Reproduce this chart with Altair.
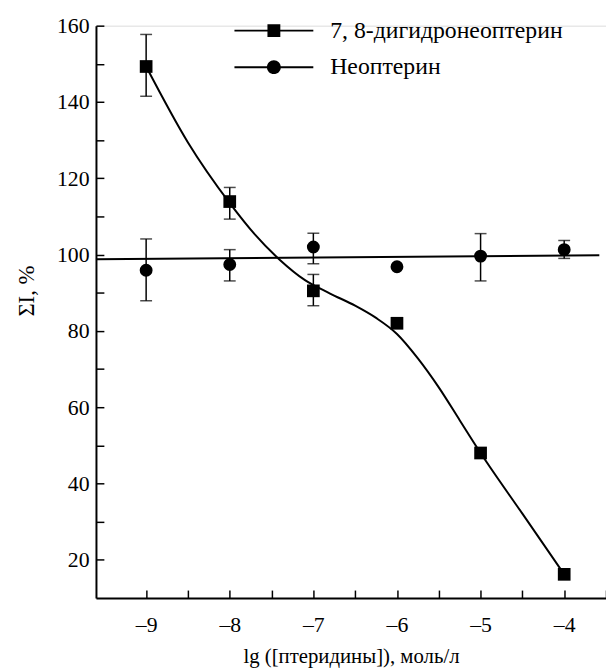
import altair as alt
import pandas as pd

# ---- data ----
series_names = ["7, 8-дигидронеоптерин", "Неоптерин"]

x_levels = [-9, -8, -7, -6, -5, -4]
dihydro = [149.3, 113.9, 90.5, 82.0, 48.0, 16.2]
neopterin = [95.9, 97.4, 102.0, 96.8, 99.6, 101.3]

dihydro_err_x = [-9, -8, -7]
dihydro_err_lo = [141.5, 109.3, 86.6]
dihydro_err_hi = [157.7, 117.6, 94.8]

neo_err_x = [-9, -8, -7, -5, -4]
neo_err_lo = [87.9, 93.1, 97.6, 93.1, 99.0]
neo_err_hi = [104.1, 101.3, 105.6, 105.5, 103.7]

# fitted curves as drawn in the figure
dihydro_fit_x = [-9, -8.5, -8, -7.7, -7.4, -7.1, -6.8, -6.5, -6.25, -6.0,
                 -5.75, -5.5, -5.25, -5.0, -4.5, -4.0]
dihydro_fit_y = [149.3, 129.4, 113.5, 105.3, 98.6, 93.3, 89.8, 86.6, 83.4, 79.2,
                 72.8, 65.2, 56.6, 48.0, 32.1, 16.2]
neo_fit_x = [-9.6, -3.58]
neo_fit_y = [98.8, 99.8]

x_ticks = [-9, -8.5, -8, -7.5, -7, -6.5, -6, -5.5, -5, -4.5, -4, -3.5]
y_ticks = [20, 30, 40, 50, 60, 70, 80, 90, 100, 110, 120, 130, 140, 150, 160]

FONT = "Times New Roman"

pts_sq = pd.DataFrame({"x": x_levels, "y": dihydro})
pts_ci = pd.DataFrame({"x": x_levels, "y": neopterin})
err = pd.DataFrame({
    "x": dihydro_err_x + neo_err_x,
    "lo": dihydro_err_lo + neo_err_lo,
    "hi": dihydro_err_hi + neo_err_hi,
})
fit_sq = pd.DataFrame({"x": dihydro_fit_x, "y": dihydro_fit_y})
fit_ci = pd.DataFrame({"x": neo_fit_x, "y": neo_fit_y})
leg = pd.DataFrame({"series": series_names, "x": [-9, -9], "y": [100, 100]})

xs = alt.Scale(domain=[-9.6, -3.5], nice=False, zero=False)
ys = alt.Scale(domain=[10, 160], nice=False, zero=False)

xaxis = alt.Axis(
    values=x_ticks,
    labelExpr="datum.value % 1 == 0 ? '–' + abs(datum.value) : ''",
    tickSize={"expr": "-8"}, tickWidth=1.5, tickColor="black",
    domainColor="black", domainWidth=2, grid=False,
    labelFont=FONT, labelFontSize=22, labelColor="black", labelPadding=25,
    labelOverlap=False, labelFlush=False,
    title="lg ([птеридины]), моль/л", titleFont=FONT, titleFontSize=21,
    titleFontWeight="normal", titleColor="black", titlePadding=10,
)
yaxis = alt.Axis(
    values=y_ticks,
    labelExpr="datum.value % 20 == 0 ? datum.label : ''",
    tickSize={"expr": "-8"}, tickWidth=1.5, tickColor="black",
    domainColor="black", domainWidth=2, grid=False,
    labelFont=FONT, labelFontSize=22, labelColor="black", labelPadding=15,
    labelOverlap=False, labelFlush=False,
    title="ΣI, %", titleFont=FONT, titleFontSize=23,
    titleFontWeight="normal", titleColor="black", titlePadding=18, titleY=268,
)

X = alt.X("x:Q", scale=xs, axis=xaxis)
Y = alt.Y("y:Q", scale=ys, axis=yaxis, title="ΣI, %")

line_sq = alt.Chart(fit_sq).mark_line(color="black", strokeWidth=2, interpolate="monotone").encode(x=X, y=Y)
line_ci = alt.Chart(fit_ci).mark_line(color="black", strokeWidth=2).encode(x=X, y=Y)

err_rule = alt.Chart(err).mark_rule(color="black", strokeWidth=1.5).encode(
    x=X, y=alt.Y("lo:Q", scale=ys, axis=yaxis, title="ΣI, %"), y2="hi:Q")
cap_lo = alt.Chart(err).mark_tick(color="black", orient="horizontal", size=12, thickness=1.5).encode(
    x=X, y=alt.Y("lo:Q", scale=ys, axis=yaxis, title="ΣI, %"))
cap_hi = alt.Chart(err).mark_tick(color="black", orient="horizontal", size=12, thickness=1.5).encode(
    x=X, y=alt.Y("hi:Q", scale=ys, axis=yaxis, title="ΣI, %"))

sq = alt.Chart(pts_sq).mark_point(shape="square", filled=True, color="black", size=165, opacity=1).encode(x=X, y=Y)
ci = alt.Chart(pts_ci).mark_point(shape="circle", filled=True, color="black", size=170, opacity=1).encode(x=X, y=Y)

# legend glyphs: a thin bar (the line) with the marker in its middle, all filled
sq_path = "M-5.7,-0.14H5.7V0.14H-5.7ZM-0.93,-0.93H0.93V0.93H-0.93Z"
ci_path = "M-5.7,-0.14H5.7V0.14H-5.7ZM1,0A1,1,0,1,1,-1,0A1,1,0,1,1,1,0Z"

legend_layer = alt.Chart(leg).transform_filter(alt.datum.x > 0).mark_point(
    filled=True, color="black", size=196, opacity=1
).encode(
    x=X, y=Y,
    shape=alt.Shape(
        "series:N",
        scale=alt.Scale(domain=series_names, range=[sq_path, ci_path]),
        legend=alt.Legend(
            title=None, orient="none", legendX=168, legendY=-7,
            symbolSize=196, symbolStrokeWidth=0, symbolFillColor="black",
            symbolOpacity=1,
            labelFont=FONT, labelFontSize=24, labelColor="black",
            labelOffset=45, rowPadding=13, padding=0, labelLimit=0,
        ),
    ),
)

chart = alt.layer(
    line_sq, line_ci, err_rule, cap_lo, cap_hi, sq, ci, legend_layer
).properties(
    width=516, height=579,
    autosize=alt.AutoSizeParams(type="none"),
    padding={"left": 89, "top": 14, "right": 0, "bottom": 70},
    background="white",
).configure_view(stroke=None).configure(font=FONT)

chart.save("out.html", embed_options={"renderer": "svg", "actions": False})
